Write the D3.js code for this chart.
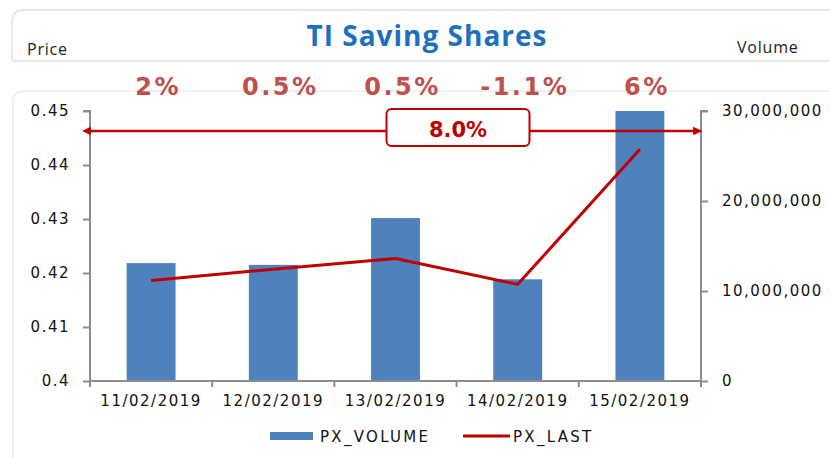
<!DOCTYPE html>
<html>
<head>
<meta charset="utf-8">
<script src="https://cdn.jsdelivr.net/npm/d3@7"></script>
<style>
  body { margin: 0; background: #fff; }
  svg { display: block; }
</style>
</head>
<body>
<svg id="chart" width="830" height="458"></svg>
<script>
// data
const dates = ["11/02/2019", "12/02/2019", "13/02/2019", "14/02/2019", "15/02/2019"];
const volumes = [13100000, 12900000, 18100000, 11300000, 30000000]; // PX_VOLUME
const prices = [0.4186, 0.4207, 0.4227, 0.4179, 0.4429];            // PX_LAST
const changes = ["2%", "0.5%", "0.5%", "-1.1%", "6%"];
const totalChange = "8.0%";
const priceTicks = [0.4, 0.41, 0.42, 0.43, 0.44, 0.45];
const volumeTicks = [0, 10000000, 20000000, 30000000];

const svg = d3.select("#chart");
const margin = {top: 111, left: 90, right: 129, bottom: 77};
const width = 830 - margin.left - margin.right,
      height = 458 - margin.top - margin.bottom;

const font = "'DejaVu Sans', Verdana, sans-serif";

// frames (light grey, like the Excel chart boxes)
svg.append("path")
    .attr("d", "M12,61 L12,22 Q12,10 24,10 L830,10")
    .attr("fill", "none").attr("stroke", "#e8e8e8").attr("stroke-width", 2);
svg.append("line")
    .attr("x1", 12).attr("x2", 830).attr("y1", 61).attr("y2", 61)
    .attr("stroke", "#e8e8e8").attr("stroke-width", 2.5);
svg.append("path")
    .attr("d", "M13,458 L13,102 Q13,91 24,91 L830,91")
    .attr("fill", "none").attr("stroke", "#ececec").attr("stroke-width", 1.5);

// title & axis titles
svg.append("text")
    .attr("x", 427).attr("y", 46)
    .attr("text-anchor", "middle")
    .attr("font-family", "'Open Sans', Lato, sans-serif")
    .attr("font-weight", "bold").attr("font-size", 28)
    .attr("letter-spacing", 1)
    .attr("fill", "#1f6fbf")
    .text("TI Saving Shares");
svg.append("text")
    .attr("x", 27).attr("y", 55)
    .attr("font-family", "'Open Sans', sans-serif")
    .attr("font-size", 16).attr("letter-spacing", 0.8).attr("fill", "#222")
    .text("Price");
svg.append("text")
    .attr("x", 737).attr("y", 53)
    .attr("font-family", "'Open Sans', sans-serif")
    .attr("font-size", 16).attr("letter-spacing", 0.8).attr("fill", "#222")
    .text("Volume");

const g = svg.append("g").attr("transform", "translate(" + margin.left + "," + margin.top + ")");

// scales
const x = d3.scaleBand().domain(dates).range([0, width]).paddingInner(0.6).paddingOuter(0.3);
const xc = d => x(d) + x.bandwidth() / 2;
const yP = d3.scaleLinear().domain([0.4, 0.45]).range([height, 0]);
const yV = d3.scaleLinear().domain([0, 30000000]).range([height, 0]);

// bars
g.selectAll("rect.bar")
  .data(volumes)
  .enter().append("rect")
    .attr("class", "bar")
    .attr("x", (d, i) => x(dates[i]))
    .attr("width", x.bandwidth())
    .attr("y", d => yV(d))
    .attr("height", d => height - yV(d))
    .attr("fill", "#4f81bd");

// axes
const axisColor = "#8c8c8c";
function styleAxis(sel) {
  sel.selectAll("path, line").attr("stroke", axisColor).attr("stroke-width", 2);
  sel.selectAll("text").attr("font-family", font).attr("font-size", 15)
    .attr("letter-spacing", 1.5).attr("fill", "#111");
}

const leftAxis = g.append("g")
    .call(d3.axisLeft(yP).tickValues(priceTicks).tickSize(7).tickPadding(13)
      .tickFormat(d => d3.format("")(+d.toFixed(2))));
styleAxis(leftAxis);
leftAxis.select(".domain").attr("d", "M0," + height + "V0H-7");

const rightAxis = g.append("g")
    .attr("transform", "translate(" + width + ",0)")
    .call(d3.axisRight(yV).tickValues(volumeTicks).tickSize(7).tickPadding(14)
      .tickFormat(d3.format(",")));
styleAxis(rightAxis);
rightAxis.select(".domain").attr("d", "M0," + height + "V0H7");

const bottomAxis = g.append("g")
    .attr("transform", "translate(0," + height + ")")
    .call(d3.axisBottom(x).tickSize(0).tickPadding(14));
styleAxis(bottomAxis);
bottomAxis.select(".domain").attr("d", "M0,0H" + width);
// category boundary ticks
const step = width / dates.length;
bottomAxis.selectAll("line.sep")
  .data(d3.range(dates.length + 1))
  .enter().append("line")
    .attr("class", "sep")
    .attr("x1", i => i * step).attr("x2", i => i * step)
    .attr("y1", 0).attr("y2", 6)
    .attr("stroke", axisColor).attr("stroke-width", 2);

// price line
const line = d3.line()
    .x((d, i) => xc(dates[i]))
    .y(d => yP(d));
g.append("path")
    .datum(prices)
    .attr("fill", "none")
    .attr("stroke", "#c00000")
    .attr("stroke-width", 3)
    .attr("stroke-linejoin", "round")
    .attr("d", line);

// daily change labels
g.selectAll("text.chg")
  .data(changes)
  .enter().append("text")
    .attr("class", "chg")
    .attr("x", (d, i) => xc(dates[i]) + 7)
    .attr("y", -16)
    .attr("text-anchor", "middle")
    .attr("font-family", font)
    .attr("font-weight", "bold").attr("font-size", 24)
    .attr("letter-spacing", 2.5)
    .attr("fill", "#c0504d")
    .text(d => d);

// total change arrow
const defs = svg.append("defs");
["start", "end"].forEach(k => {
  defs.append("marker")
      .attr("id", "arr-" + k)
      .attr("viewBox", "0 0 10 10")
      .attr("refX", k === "end" ? 9 : 1).attr("refY", 5)
      .attr("markerWidth", 4.5).attr("markerHeight", 3.5)
      .attr("orient", "auto-start-reverse")
    .append("path")
      .attr("d", "M0,0L10,5L0,10Z")
      .attr("fill", "#c00000");
});
const arrowY = 20;
g.append("line")
    .attr("x1", 0).attr("x2", width)
    .attr("y1", arrowY).attr("y2", arrowY)
    .attr("stroke", "#c00000").attr("stroke-width", 2.5)
    .attr("marker-start", "url(#arr-start)")
    .attr("marker-end", "url(#arr-end)");
const boxW = 143, boxH = 37, boxCx = 368;
g.append("rect")
    .attr("x", boxCx - boxW / 2).attr("y", -2)
    .attr("width", boxW).attr("height", boxH)
    .attr("rx", 5)
    .attr("fill", "#fff").attr("stroke", "#c00000").attr("stroke-width", 2);
g.append("text")
    .attr("x", boxCx).attr("y", 26)
    .attr("text-anchor", "middle")
    .attr("font-family", font)
    .attr("font-weight", "bold").attr("font-size", 21)
    .attr("fill", "#c00000")
    .text(totalChange);

// legend
const lg = svg.append("g").attr("transform", "translate(270,436)");
lg.append("rect").attr("x", 0).attr("y", -4).attr("width", 43).attr("height", 8).attr("fill", "#4f81bd");
lg.append("text").attr("x", 50).attr("y", 5.5)
    .attr("font-family", font).attr("font-size", 15).attr("letter-spacing", 2.3)
    .attr("fill", "#111").text("PX_VOLUME");
lg.append("line").attr("x1", 193).attr("x2", 240).attr("y1", 0).attr("y2", 0)
    .attr("stroke", "#c00000").attr("stroke-width", 3);
lg.append("text").attr("x", 243).attr("y", 5.5)
    .attr("font-family", font).attr("font-size", 15).attr("letter-spacing", 2.3)
    .attr("fill", "#111").text("PX_LAST");
</script>
</body>
</html>
